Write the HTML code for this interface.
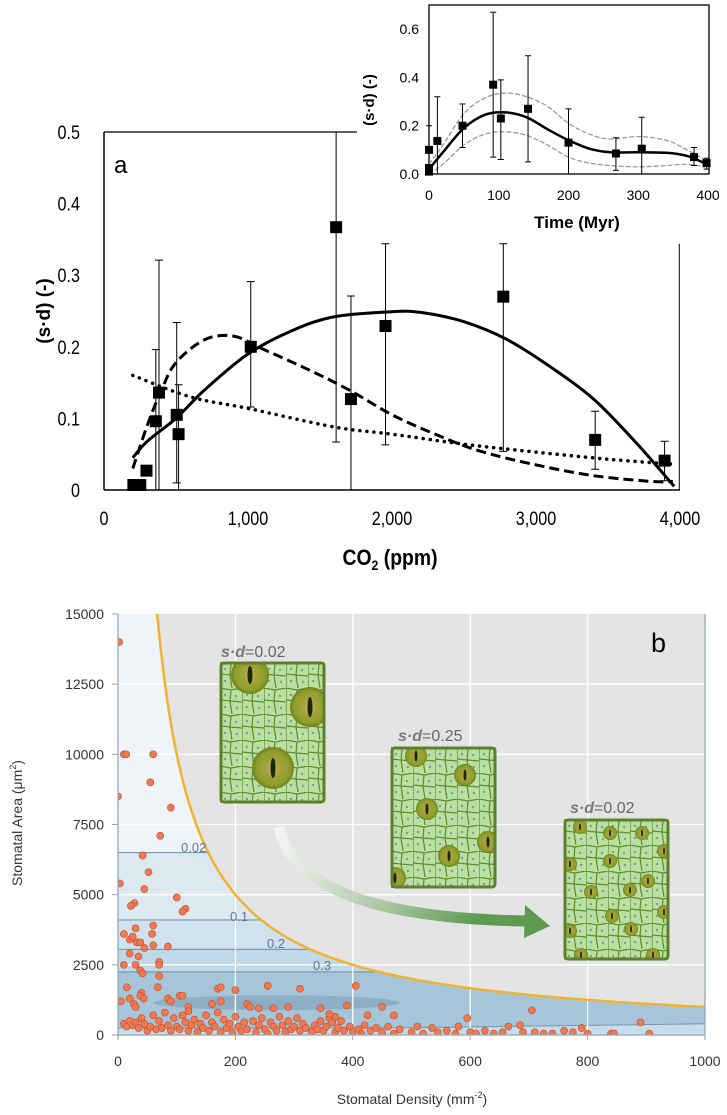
<!DOCTYPE html>
<html><head><meta charset="utf-8">
<style>
html,body{margin:0;padding:0;background:#fff;}
svg{display:block;}
.nar{font-family:"Liberation Sans Narrow","Liberation Sans",sans-serif;}
.sans{font-family:"Liberation Sans",sans-serif;}
</style></head>
<body>
<svg id="fig" width="727" height="1115" viewBox="0 0 727 1115" xmlns="http://www.w3.org/2000/svg">
<defs>
  <clipPath id="clipA"><rect x="104" y="120" width="600" height="371"/></clipPath>
  <clipPath id="clipIn"><rect x="429" y="5" width="280" height="169"/></clipPath>
  <clipPath id="clipB"><rect x="118" y="614" width="587" height="421"/></clipPath>
  <clipPath id="clipUnder"><path id="underPath" d=""/></clipPath>
  <pattern id="cells" width="22" height="26" patternUnits="userSpaceOnUse">
    <rect width="22" height="26" fill="#b9e0a0"/>
    <path d="M0 0 L11 2 L22 0 M11 2 L10 13 L0 12 M10 13 L22 14 M10 13 L12 26 M0 26 L0 0" stroke="#5f8a32" stroke-width="1.2" fill="none"/>
    <circle cx="5" cy="7" r="1.2" fill="#7c9aa0"/><circle cx="16" cy="8" r="1.2" fill="#7c9aa0"/>
    <circle cx="5" cy="19" r="1.2" fill="#7c9aa0"/><circle cx="17" cy="20" r="1.2" fill="#7c9aa0"/>
  </pattern>
  <radialGradient id="stoma" cx="0.5" cy="0.5" r="0.5">
    <stop offset="0" stop-color="#c9b07a"/><stop offset="0.35" stop-color="#a6a23c"/>
    <stop offset="0.8" stop-color="#8e9e2a"/><stop offset="1" stop-color="#6f7f1e"/>
  </radialGradient>
  <linearGradient id="arrowGrad" x1="0" y1="0" x2="1" y2="0.3">
    <stop offset="0" stop-color="#ffffff" stop-opacity="0.6"/><stop offset="1" stop-color="#5e9a50"/>
  </linearGradient>
</defs>

<!-- ===== Panel a ===== -->
<g id="panelA">
  <line x1="104" y1="132" x2="104" y2="490" stroke="#000" stroke-width="1.5"/>
  <line x1="104" y1="490" x2="680" y2="490" stroke="#000" stroke-width="1.5"/>
  <line x1="104" y1="132" x2="357" y2="132" stroke="#000" stroke-width="1.3"/>
  <text x="114" y="173" class="sans" font-size="24">a</text>
  <g id="aTicks" class="nar" font-size="19"></g>
  <text class="sans" font-weight="bold" font-size="19" transform="translate(50,311) rotate(-90)" text-anchor="middle">(s·d) (-)</text>
  <text class="nar" font-weight="bold" font-size="22" transform="translate(390,565) scale(0.88,1)" text-anchor="middle">CO<tspan font-size="14" dy="5">2</tspan><tspan dy="-5"> (ppm)</tspan></text>
  <g id="aMarks" clip-path="url(#clipA)"></g>
</g>

<!-- ===== Inset ===== -->
<g id="inset">
  <rect x="357" y="0" width="370" height="240" fill="#fff"/>
  <rect x="429" y="5" width="280" height="169" fill="none" stroke="#000" stroke-width="1.3"/>
  <g id="inTicks" class="sans" font-size="14"></g>
  <text class="sans" font-weight="bold" font-size="15" transform="translate(374,100) rotate(-90)" text-anchor="middle">(s·d) (-)</text>
  <text class="sans" font-weight="bold" font-size="17" x="577" y="228" text-anchor="middle">Time (Myr)</text>
  <g id="inMarks"></g>
</g>

<!-- ===== Panel b ===== -->
<g id="panelB">
  <g id="bBg" clip-path="url(#clipB)"></g>
  <g id="bTicks" class="sans" font-size="14" fill="#333"></g>
  <text class="sans" font-size="14" fill="#333" transform="translate(22,823) rotate(-90)" text-anchor="middle">Stomatal Area (μm<tspan font-size="9" dy="-6">2</tspan><tspan dy="6">)</tspan></text>
  <text class="sans" font-size="14" fill="#333" x="412" y="1104" text-anchor="middle">Stomatal Density (mm<tspan font-size="9" dy="-6">-2</tspan><tspan dy="6">)</tspan></text>
  <text class="sans" font-size="27" x="651" y="652">b</text>

  <path d="M279,827 Q298,918 528,921" stroke="url(#arrowGrad)" stroke-width="11" fill="none"/>
  <polygon points="525,905 550,926 524,938" fill="#5e9a50"/>

  <g>
    <text x="221" y="657" class="sans" font-size="16" fill="#666"><tspan font-weight="bold" font-style="italic" fill="#7a7a7a">s·d</tspan>=0.02</text>
    <svg x="220" y="662" width="105" height="141" overflow="hidden">
      <rect width="105" height="141" fill="url(#cells)"/>
      <circle cx="30" cy="13" r="19" fill="url(#stoma)"/><ellipse cx="30" cy="13" rx="2.5" ry="9" fill="#1a2a08"/>
      <circle cx="90" cy="45" r="20" fill="url(#stoma)"/><ellipse cx="90" cy="45" rx="2.5" ry="10" fill="#1a2a08"/>
      <circle cx="53" cy="106" r="21" fill="url(#stoma)"/><ellipse cx="53" cy="106" rx="2.5" ry="10" fill="#1a2a08"/>
    </svg>
    <rect x="221" y="663" width="103" height="139" rx="3" fill="none" stroke="#5d7f2e" stroke-width="3"/>
  </g>
  <g>
    <text x="398" y="741" class="sans" font-size="16" fill="#666"><tspan font-weight="bold" font-style="italic" fill="#7a7a7a">s·d</tspan>=0.25</text>
    <svg x="391" y="747" width="105" height="141" overflow="hidden">
      <rect width="105" height="141" fill="url(#cells)"/>
      <g id="stomaMed"></g>
    </svg>
    <rect x="392" y="748" width="103" height="139" rx="3" fill="none" stroke="#5d7f2e" stroke-width="3"/>
  </g>
  <g>
    <text x="570" y="813" class="sans" font-size="16" fill="#666"><tspan font-weight="bold" font-style="italic" fill="#7a7a7a">s·d</tspan>=0.02</text>
    <svg x="564" y="819" width="105" height="141" overflow="hidden">
      <rect width="105" height="141" fill="url(#cells)"/>
      <g id="stomaSmall"></g>
    </svg>
    <rect x="565" y="820" width="103" height="139" rx="3" fill="none" stroke="#5d7f2e" stroke-width="3"/>
  </g>
</g>
</svg>

<script>
// ---------- Panel a data ----------
const co2Vals = [204, 252, 295, 360, 382, 505, 518, 1019, 1612, 1715, 1955, 2773, 3411, 3893];
const sdVals  = [0.007, 0.007, 0.027, 0.096, 0.136, 0.105, 0.078, 0.2, 0.367, 0.127, 0.229, 0.27, 0.07, 0.041];
const sdLow   = [0.007, 0.007, 0.027, 0, 0, 0.01, 0, 0.116, 0.067, 0, 0.063, 0.054, 0.029, 0.013];
const sdHigh  = [0.007, 0.007, 0.027, 0.196, 0.321, 0.234, 0.147, 0.291, 0.5, 0.271, 0.344, 0.344, 0.11, 0.068];
const solidX = [200, 300, 500, 700, 1000, 1300, 1600, 2000, 2200, 2500, 2800, 3100, 3400, 3700, 3960];
const solidY = [0.045, 0.068, 0.1, 0.14, 0.19, 0.222, 0.242, 0.249, 0.248, 0.235, 0.21, 0.172, 0.127, 0.065, 0.005];
const dashX = [200, 300, 400, 500, 700, 900, 1100, 1400, 1700, 2000, 2300, 2600, 3000, 3400, 3800, 3950];
const dashY = [0.03, 0.09, 0.14, 0.178, 0.21, 0.215, 0.197, 0.17, 0.14, 0.105, 0.078, 0.055, 0.035, 0.02, 0.012, 0.012];
const dotX = [200, 600, 1000, 1600, 2000, 2500, 3000, 3500, 3950];
const dotY = [0.16, 0.13, 0.114, 0.088, 0.078, 0.064, 0.053, 0.043, 0.036];
const aXTicks = [0, 1000, 2000, 3000, 4000];
const aXTickLabels = ["0", "1,000", "2,000", "3,000", "4,000"];
const aYTicks = [0, 0.1, 0.2, 0.3, 0.4, 0.5];
const aYTickLabels = ["0", "0.1", "0.2", "0.3", "0.4", "0.5"];

// ---------- Inset data ----------
const timeVals = [0, 0, 0, 12, 48, 92, 103, 142, 200, 268, 305, 380, 398];
const timeSd   = [0.1, 0.025, 0.01, 0.137, 0.2, 0.37, 0.23, 0.27, 0.13, 0.085, 0.105, 0.07, 0.045];
const timeLow  = [0.1, 0.0, 0.0, 0.0, 0.11, 0.07, 0.06, 0.05, 0.0, 0.015, 0.0, 0.035, 0.02];
const timeHigh = [0.2, 0.025, 0.01, 0.32, 0.29, 0.67, 0.39, 0.49, 0.27, 0.15, 0.235, 0.11, 0.065];
const fitT   = [0, 20, 50, 80, 110, 140, 170, 200, 230, 260, 300, 340, 370, 395];
const fitMid = [0.02, 0.09, 0.19, 0.245, 0.255, 0.235, 0.185, 0.14, 0.105, 0.09, 0.09, 0.088, 0.075, 0.045];
const fitUp  = [0.04, 0.12, 0.25, 0.315, 0.335, 0.32, 0.28, 0.21, 0.165, 0.145, 0.155, 0.14, 0.1, 0.06];
const fitLo  = [0.0, 0.04, 0.12, 0.165, 0.175, 0.16, 0.12, 0.07, 0.045, 0.035, 0.03, 0.035, 0.04, 0.03];
const inXTicks = [0, 100, 200, 300, 400];
const inYTicks = [0, 0.2, 0.4, 0.6];
const inYTickLabels = ["0.0", "0.2", "0.4", "0.6"];

// ---------- Panel b data ----------
const bXTicks = [0, 200, 400, 600, 800, 1000];
const bYTicks = [0, 2500, 5000, 7500, 10000, 12500, 15000];
const contourLevels = ["0.02", "0.1", "0.2", "0.3"];
const contourAreas = [6500, 4100, 3050, 2250];
const densityVals = [2,10,14,60,0,55,90,72,42,52,3,45,100,115,110,28,22,60,30,58,10,20,25,32,38,45,60,85,20,35,10,30,70,70,38,42,70,15,68,170,175,200,255,310,405,40,38,44,20,5,27,30,85,105,110,90,120,160,175,220,225,240,265,290,345,390,450,470,425,370,360,360,705,890,595,
10,15,20,25,30,35,40,45,50,55,60,65,70,75,80,85,90,95,100,105,110,115,120,120,125,130,135,140,145,150,155,160,165,170,175,180,185,190,195,200,205,210,215,220,230,235,240,245,250,255,260,265,270,275,280,285,290,295,300,305,310,315,320,330,335,340,345,350,355,365,370,375,380,385,395,400,410,415,420,430,440,450,460,470,480,500,510,520,535,545,560,575,580,600,610,625,640,655,665,685,690,710,725,740,760,775,790,800,840,845,905];
const areaVals = [14000,10000,10000,10000,8500,9000,8100,7100,6400,5800,5400,5200,4900,4500,4400,4700,4600,3900,3800,3600,3600,3400,3500,3300,3300,3100,3200,3150,2900,2800,2500,2500,2600,2500,2300,2200,2100,1700,1700,1650,1700,1600,1750,1650,1750,1500,1400,1300,1300,1200,1100,1000,1300,1400,1400,1200,1000,1100,1200,1100,1000,950,950,1000,950,1050,1000,700,700,650,600,750,880,450,600,
400,300,500,350,450,250,600,400,150,300,700,200,500,250,800,350,150,600,300,200,700,450,150,850,350,550,100,400,250,700,150,450,300,800,100,550,250,400,100,650,300,150,450,200,500,100,350,600,200,50,450,300,150,650,350,100,500,200,300,600,150,400,250,100,350,200,500,150,300,450,100,250,500,150,300,100,200,50,350,150,250,100,300,50,200,100,300,50,250,100,150,50,300,100,50,150,50,100,300,350,100,100,50,50,150,100,250,50,50,50,50];

const NS = "http://www.w3.org/2000/svg";
function mk(tag, attrs, parent) {
  const e = document.createElementNS(NS, tag);
  for (const k in attrs) e.setAttribute(k, attrs[k]);
  parent.appendChild(e);
  return e;
}
function smooth(pts) {
  let d = "M" + pts[0][0].toFixed(1) + "," + pts[0][1].toFixed(1);
  for (let i = 0; i < pts.length - 1; i++) {
    const p0 = pts[i - 1] || pts[i], p1 = pts[i], p2 = pts[i + 1], p3 = pts[i + 2] || p2;
    const c1x = p1[0] + (p2[0] - p0[0]) / 6, c1y = p1[1] + (p2[1] - p0[1]) / 6;
    const c2x = p2[0] - (p3[0] - p1[0]) / 6, c2y = p2[1] - (p3[1] - p1[1]) / 6;
    d += " C" + c1x.toFixed(1) + "," + c1y.toFixed(1) + " " + c2x.toFixed(1) + "," + c2y.toFixed(1) + " " + p2[0].toFixed(1) + "," + p2[1].toFixed(1);
  }
  return d;
}

// ---------- Panel a ----------
const ax = c => 104 + c / 4000 * 576;
const ay = v => 490 - v / 0.5 * 358;
const aTicks = document.getElementById("aTicks");
const aMarks = document.getElementById("aMarks");
aXTicks.forEach((t, i) => {
  const tx = mk("text", {transform: `translate(${ax(t)},525) scale(0.85,1)`, "text-anchor": "middle"}, aTicks);
  tx.textContent = aXTickLabels[i];
  
  
});
aYTicks.forEach((t, i) => {
  const tx = mk("text", {transform: `translate(80,${ay(t) + 7}) scale(0.85,1)`, "text-anchor": "end"}, aTicks);
  tx.textContent = aYTickLabels[i];
  
  
});
const solidPath = mk("path", {d: smooth(solidX.map((x, i) => [ax(x), ay(solidY[i])])), fill: "none", stroke: "#000", "stroke-width": 3}, aMarks);


const dashPath = mk("path", {d: smooth(dashX.map((x, i) => [ax(x), ay(dashY[i])])), fill: "none", stroke: "#000", "stroke-width": 3, "stroke-dasharray": "10,5"}, aMarks);


const dotPath = mk("path", {d: smooth(dotX.map((x, i) => [ax(x), ay(dotY[i])])), fill: "none", stroke: "#000", "stroke-width": 3.5, "stroke-dasharray": "0.1,7", "stroke-linecap": "round"}, aMarks);


const rl = mk("line", {x1: ax(3995), y1: ay(0.344), x2: ax(3995), y2: ay(0), stroke: "#000", "stroke-width": 1}, aMarks);


co2Vals.forEach((c, i) => {
  const x = ax(c);
  const eb = mk("path", {d: `M${x},${ay(sdLow[i])} V${ay(sdHigh[i])} M${x - 4},${ay(sdHigh[i])} h8 M${x - 4},${ay(sdLow[i])} h8`, stroke: "#000", "stroke-width": 1, fill: "none"}, aMarks);
  
  
  const sq = mk("rect", {x: x - 6, y: ay(sdVals[i]) - 6, width: 12, height: 12, fill: "#000"}, aMarks);
  
  
});

// ---------- Inset ----------
const ix = t => 429 + t / 400 * 279;
const iy = v => 174 - v / 0.7 * 169;
const inTicks = document.getElementById("inTicks");
const inMarks = document.getElementById("inMarks");
inXTicks.forEach(t => {
  const tx = mk("text", {x: ix(t), y: 200, "text-anchor": "middle"}, inTicks);
  tx.textContent = String(t);
  
  
});
inYTicks.forEach((t, i) => {
  const tx = mk("text", {x: 419, y: iy(t) + 5, "text-anchor": "end"}, inTicks);
  tx.textContent = inYTickLabels[i];
  
  
});
const g2 = mk("g", {"clip-path": "url(#clipIn)"}, inMarks);
const upP = mk("path", {d: smooth(fitT.map((t, i) => [ix(t), iy(fitUp[i])])), fill: "none", stroke: "#999", "stroke-width": 1.3, "stroke-dasharray": "5,2"}, g2);


const loP = mk("path", {d: smooth(fitT.map((t, i) => [ix(t), iy(fitLo[i])])), fill: "none", stroke: "#999", "stroke-width": 1.3, "stroke-dasharray": "5,2"}, g2);


const midP = mk("path", {d: smooth(fitT.map((t, i) => [ix(t), iy(fitMid[i])])), fill: "none", stroke: "#000", "stroke-width": 2.5}, g2);


timeVals.forEach((t, i) => {
  const x = ix(t);
  const eb = mk("path", {d: `M${x},${iy(timeLow[i])} V${iy(timeHigh[i])} M${x - 3},${iy(timeHigh[i])} h6 M${x - 3},${iy(timeLow[i])} h6`, stroke: "#000", "stroke-width": 1, fill: "none"}, inMarks);
  
  
  const sq = mk("rect", {x: x - 4, y: iy(timeSd[i]) - 4, width: 8, height: 8, fill: "#000"}, inMarks);
  
  
});

// ---------- Panel b ----------
const bx = d => 118 + d / 1000 * 587;
const by = a => 1035 - a / 15000 * 421;
const bBg = document.getElementById("bBg");
const bTicks = document.getElementById("bTicks");
mk("rect", {x: 118, y: 614, width: 587, height: 421, fill: "#e4e4e4"}, bBg);
const curvePts = [];
for (let d = 1e6 / 15000; d <= 1000.1; d += 6) curvePts.push([bx(d), by(1e6 / d)]);
curvePts.push([bx(1000), by(1000)]);
let underD = `M${bx(0)},${by(0)} L${bx(0)},${by(15000)} ` + curvePts.map(p => "L" + p[0].toFixed(1) + "," + p[1].toFixed(1)).join(" ") + ` L${bx(1000)},${by(0)} Z`;
document.getElementById("underPath").setAttribute("d", underD);
const gu = mk("g", {"clip-path": "url(#clipUnder)"}, bBg);
mk("rect", {x: 118, y: 614, width: 587, height: 421, fill: "#eef4f8"}, gu);
const bandColors = ["#dde9f1", "#cfe2ee", "#c0d9e8", "#a6c5d9"];
contourAreas.forEach((a, i) => {
  const r = mk("rect", {x: 118, y: by(a), width: 587, height: by(0) - by(a), fill: bandColors[i]}, gu);
  
  
  const l = mk("line", {x1: 118, y1: by(a), x2: 705, y2: by(a), stroke: "#7b97ab", "stroke-width": 1.2}, gu);
  
  
});
mk("path", {d: `M118,${by(250)} L${bx(500)},${by(260)} L${bx(1000)},${by(400)} L705,1035 L118,1035 Z`, fill: "#c6dcea", stroke: "#7b97ab", "stroke-width": 1}, gu);
const ell = mk("ellipse", {cx: bx(270), cy: by(1150), rx: 123, ry: 7.5, fill: "#8eaec5"}, gu);


bXTicks.forEach(t => { if (t > 0 && t < 1000) mk("line", {x1: bx(t), y1: 614, x2: bx(t), y2: 1035, stroke: "#fff", "stroke-width": 1.3}, bBg); });
bYTicks.forEach(t => { if (t > 0 && t < 15000) mk("line", {x1: 118, y1: by(t), x2: 705, y2: by(t), stroke: "#fff", "stroke-width": 1.3}, bBg); });
const yc = mk("path", {d: "M" + curvePts.map(p => p[0].toFixed(1) + "," + p[1].toFixed(1)).join(" L"), fill: "none", stroke: "#f0b232", "stroke-width": 2.5}, bBg);


const labelPos = [[181, 852], [230, 921], [267, 948], [313, 970]];
contourLevels.forEach((lv, i) => {
  const t = mk("text", {x: labelPos[i][0], y: labelPos[i][1], "font-size": 13, fill: "#5a7890", class: "sans"}, bBg);
  t.textContent = lv;
  
  
});
densityVals.forEach((d, i) => {
  const c = mk("circle", {cx: bx(d), cy: by(areaVals[i]), r: 3.5, fill: "#ec7a52", stroke: "#c8532f", "stroke-width": 0.7}, bBg);
  
  
});
mk("path", {d: "M118,614 V1035 H705 V614", fill: "none", stroke: "#8ea6b6", "stroke-width": 1.2}, bTicks);
bXTicks.forEach(t => {
  mk("line", {x1: bx(t), y1: 1035, x2: bx(t), y2: 1040, stroke: "#8ea6b6"}, bTicks);
  const tx = mk("text", {x: bx(t), y: 1066, "text-anchor": "middle"}, bTicks);
  tx.textContent = String(t);
  
  
});
bYTicks.forEach(t => {
  mk("line", {x1: 112, y1: by(t), x2: 118, y2: by(t), stroke: "#8ea6b6"}, bTicks);
  const tx = mk("text", {x: 104, y: by(t) + 5, "text-anchor": "end"}, bTicks);
  tx.textContent = String(t);
  
  
});

function stomata(gid, list, r) {
  const g = document.getElementById(gid);
  list.forEach(p => {
    const c = mk("circle", {cx: p[0], cy: p[1], r: r, fill: "url(#stoma)"}, g);
    
    
    mk("ellipse", {cx: p[0], cy: p[1], rx: r * 0.14, ry: r * 0.5, fill: "#1a2a08"}, g);
  });
}
stomata("stomaMed", [[25,9],[74,28],[36,62],[97,95],[58,109],[4,131]], 11);
stomata("stomaSmall", [[16,8],[46,14],[78,14],[6,45],[46,42],[100,32],[27,73],[66,71],[84,62],[100,93],[48,97],[6,112],[67,110],[17,136],[89,136]], 7);
</script>
</body></html>
